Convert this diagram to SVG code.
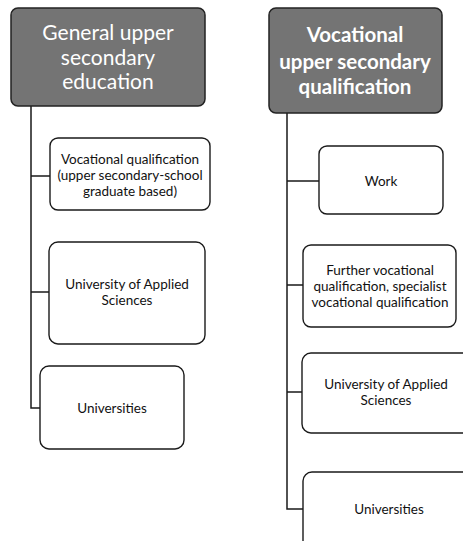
<svg xmlns="http://www.w3.org/2000/svg" width="463" height="541" viewBox="0 0 463 541">
<style>
.hdr{fill:#747474;stroke:#222;stroke-width:1.5}
.box{fill:#fff;stroke:#1a1a1a;stroke-width:1.4}
.ht{font-family:Lato,"Open Sans",sans-serif;font-size:21px;fill:#fff;text-anchor:middle}
.hb{font-weight:bold;font-size:20.5px}
.t{font-family:Lato,"Open Sans",sans-serif;font-size:13.5px;fill:#111;text-anchor:middle}
.c{fill:none;stroke:#1a1a1a;stroke-width:1.5}
</style>
<rect width="463" height="541" fill="#fff"/>
<g id="connectors">
<path class="c" d="M31 106 V408 H40 M31 176 H50 M31 292 H49"/>
<path class="c" d="M287 113 V509 H303 M287 181 H319 M287 285 H303 M287 392 H302"/>
</g>
<g id="general">
<rect class="hdr" x="11" y="8" width="194" height="98" rx="7"/>
<text class="ht" x="108" y="40">General upper</text>
<text class="ht" x="108" y="65">secondary</text>
<text class="ht" x="108" y="89">education</text>
</g>
<g id="vocational">
<rect class="hdr" x="269" y="8" width="173" height="105" rx="7"/>
<text class="ht hb" x="355" y="42">Vocational</text>
<text class="ht hb" x="355" y="69">upper secondary</text>
<text class="ht hb" x="355" y="94">qualification</text>
</g>
<g id="g-vq">
<rect class="box" x="50" y="138" width="160" height="72" rx="8"/>
<text class="t" x="130" y="164">Vocational qualification</text>
<text class="t" x="130" y="180">(upper secondary-school</text>
<text class="t" x="130" y="196">graduate based)</text>
</g>
<g id="g-uas">
<rect class="box" x="49" y="242" width="156" height="102" rx="9"/>
<text class="t" x="127" y="289">University of Applied</text>
<text class="t" x="127" y="305">Sciences</text>
</g>
<g id="g-uni">
<rect class="box" x="40" y="366" width="144" height="83" rx="9"/>
<text class="t" x="112" y="413">Universities</text>
</g>
<g id="v-work">
<rect class="box" x="319" y="146" width="124" height="68" rx="8"/>
<text class="t" x="381" y="186">Work</text>
</g>
<g id="v-further">
<rect class="box" x="303" y="245" width="153" height="82" rx="8"/>
<text class="t" x="380" y="275">Further vocational</text>
<text class="t" x="380" y="291">qualification, specialist</text>
<text class="t" x="380" y="307">vocational qualification</text>
</g>
<g id="v-uas">
<rect class="box" x="302" y="353" width="180" height="80" rx="9"/>
<text class="t" x="386" y="389">University of Applied</text>
<text class="t" x="386" y="405">Sciences</text>
</g>
<g id="v-uni">
<rect class="box" x="303" y="472" width="180" height="100" rx="9"/>
<text class="t" x="389" y="514">Universities</text>
</g>
</svg>
